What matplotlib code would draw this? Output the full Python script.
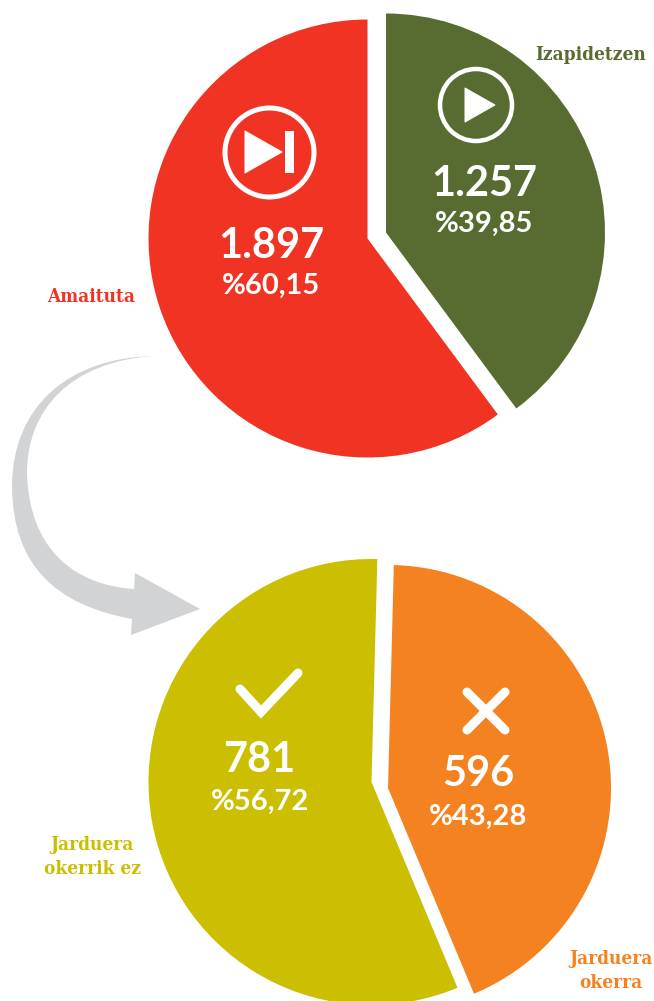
import matplotlib
matplotlib.use('Agg')
import matplotlib.pyplot as plt
from matplotlib.patches import Circle, PathPatch, Polygon, Rectangle
from matplotlib.path import Path

W, H = 654, 1001

# Datos
top_labels = ['Amaituta', 'Izapidetzen']
top_counts = [1897, 1257]
top_count_text = ['1.897', '1.257']
top_pct_text = ['%60,15', '%39,85']
top_colors = ['#F03323', '#586B31']

bottom_labels = ['Jarduera\nokerrik ez', 'Jarduera\nokerra']
bottom_counts = [781, 596]
bottom_count_text = ['781', '596']
bottom_pct_text = ['%56,72', '%43,28']
bottom_colors = ['#CCBE00', '#F58220']

GREY = '#D1D3D4'
NUM_FONT = 'Lato'
LAB_FONT = 'DejaVu Serif'


def Y(y):
    # coordenadas de pixel con origen arriba
    return H - y


def px(n):
    return n * 72 / 100


fig = plt.figure(figsize=(W / 100, H / 100), dpi=100)
ax = fig.add_axes([0, 0, 1, 1])

# Tartas
w1, _ = ax.pie(top_counts, colors=top_colors, startangle=90, radius=219, center=(367.5, Y(238.5)))
w1[1].set_center((386, Y(232.5)))
w2, _ = ax.pie(bottom_counts, colors=bottom_colors, startangle=88.5, radius=223, center=(371.5, Y(782)))
w2[1].set_center((388, Y(788)))

ax.set_xlim(0, W)
ax.set_ylim(0, H)
ax.set_aspect('equal')
ax.axis('off')

# Flecha gris
arrow_verts = [(153, 356), (70, 358), (12, 405), (12, 487), (13, 566), (56, 605), (132, 619),
               (131, 635), (200, 609), (135, 573), (134, 589),
               (74, 585), (29, 549), (27, 473), (27, 410), (70, 362), (153, 356)]
arrow_codes = [Path.MOVETO] + [Path.CURVE4] * 6 + [Path.LINETO] * 4 + [Path.CURVE4] * 6
ax.add_patch(PathPatch(Path([(x, Y(y)) for x, y in arrow_verts], arrow_codes), fc=GREY, ec='none'))

# Iconos
ax.add_patch(Circle((269.5, Y(152.5)), 44.5, fc='none', ec='white', lw=px(5)))
ax.add_patch(Polygon([(245, Y(131)), (245, Y(173)), (282, Y(152))], fc='white', ec='white', lw=px(1), joinstyle='round'))
ax.add_patch(Rectangle((285, Y(173)), 9, 42, fc='white', ec='none'))

ax.add_patch(Circle((476, Y(105)), 36, fc='none', ec='white', lw=px(4.5)))
ax.add_patch(Polygon([(465, Y(88)), (465, Y(122)), (495, Y(105))], fc='white', ec='white', lw=px(1), joinstyle='round'))

ax.plot([240, 261, 298], [Y(689), Y(712), Y(673)], color='white', lw=px(9),
        solid_capstyle='round', solid_joinstyle='miter')
ax.plot([467, 505], [Y(692), Y(730)], color='white', lw=px(9), solid_capstyle='round')
ax.plot([467, 505], [Y(730), Y(692)], color='white', lw=px(9), solid_capstyle='round')


def num(x, y, s, size):
    ax.text(x, Y(y), s, color='white', fontsize=size, fontweight='bold', family=NUM_FONT,
            ha='center', va='center_baseline')


# Valores
num(271, 242, top_count_text[0], 30)
num(271, 283, top_pct_text[0], 21)
num(484, 180, top_count_text[1], 30)
num(484, 221, top_pct_text[1], 21)
num(259, 757, bottom_count_text[0], 30)
num(260, 799, bottom_pct_text[0], 21)
num(478, 771, bottom_count_text[1], 30)
num(478, 814, bottom_pct_text[1], 21)

# Etiquetas exteriores
lab = dict(fontsize=13.6, fontweight='bold', family=LAB_FONT, stretch='condensed',
           ha='center', va='center', linespacing=1.4)
ax.text(591, Y(55), top_labels[1], color=top_colors[1], **lab)
ax.text(91, Y(297), top_labels[0], color=top_colors[0], **lab)
ax.text(92, Y(857), bottom_labels[0], color=bottom_colors[0], **lab)
ax.text(611, Y(971), bottom_labels[1], color=bottom_colors[1], **lab)

fig.savefig('out.png', dpi=100)
